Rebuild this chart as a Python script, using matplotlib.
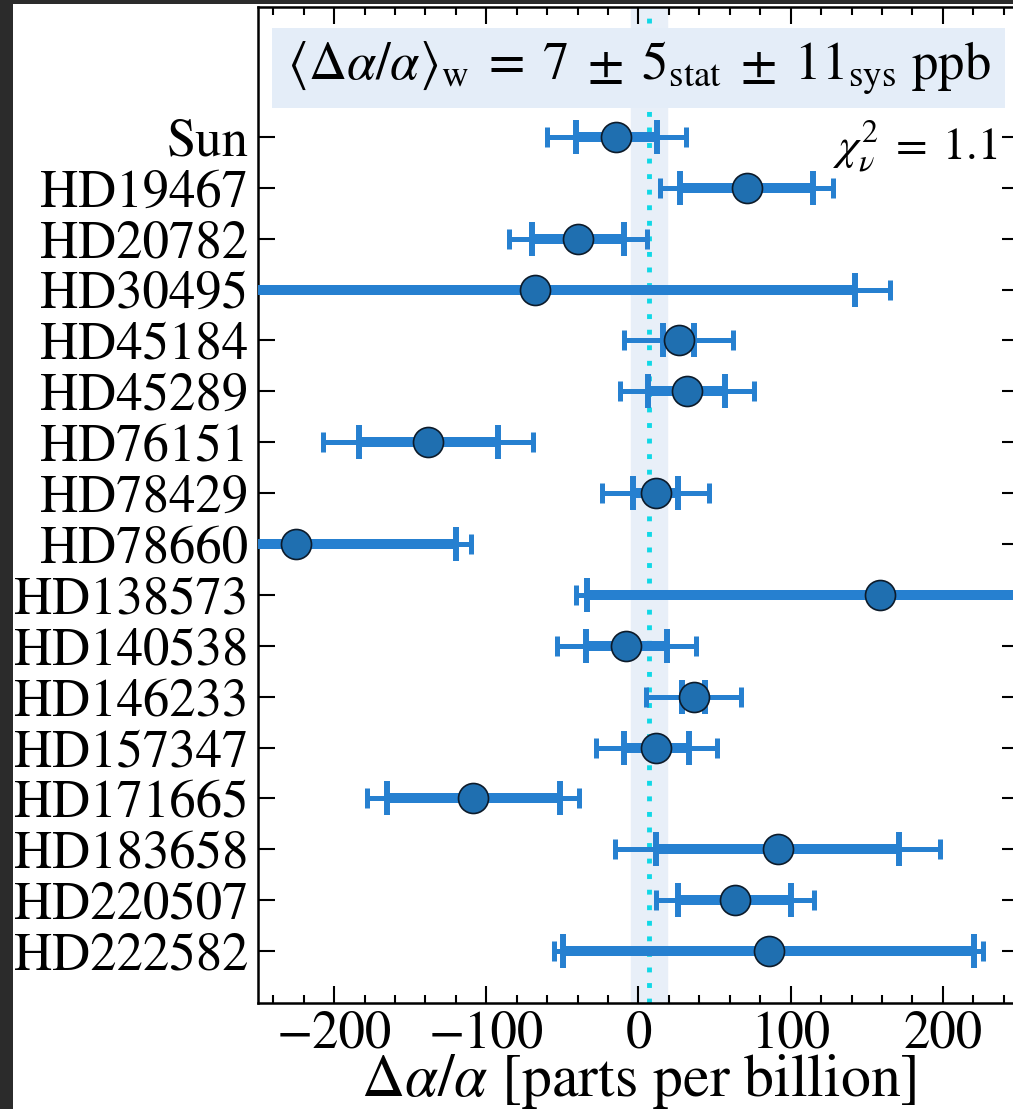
import matplotlib
matplotlib.use("Agg")
import matplotlib.pyplot as plt
from matplotlib.patches import Rectangle

plt.rcParams['font.family'] = ['STIXGeneral', 'DejaVu Serif']
plt.rcParams['mathtext.fontset'] = 'stix'

# data (ppb)
stars = ["Sun", "HD19467", "HD20782", "HD30495", "HD45184", "HD45289",
         "HD76151", "HD78429", "HD78660", "HD138573", "HD140538",
         "HD146233", "HD157347", "HD171665", "HD183658", "HD220507",
         "HD222582"]
values = [-14.5, 71.0, -39.5, -67.8, 26.3, 31.6, -138.0, 11.2, -225.0,
          159.0, -7.9, 36.2, 11.8, -108.6, 91.4, 63.2, 85.5]
stat_err = [26.6, 43.4, 30.3, 210.0, 10.0, 25.3, 45.6, 15.0, 105.0,
            193.0, 26.6, 7.5, 21.4, 56.9, 79.6, 37.2, 135.0]
total_err = [45.5, 56.6, 45.4, 233.0, 35.5, 44.0, 69.0, 35.2, 115.0,
             200.0, 45.7, 31.2, 39.5, 69.7, 106.6, 52.0, 140.8]

mean_w = 7
sig_stat = 5
sig_sys = 11
band = (mean_w - 12, mean_w + 12)
chi2 = 1.1

bar_col = '#2680d0'
pt_col = '#1f6fb0'

fig = plt.figure(figsize=(10.13, 11.09), dpi=100)
ax = fig.add_axes([0.2547, 0.0956, 0.7512, 0.898])

ypos = list(range(len(stars)))

ax.axvspan(band[0], band[1], color='#e8eff8', zorder=0)
ax.axvline(mean_w, color='#10d8e6', ls=(0, (1, 2.2)), lw=3.5, zorder=1)

ax.errorbar(values, ypos, xerr=total_err, fmt='none', ecolor=bar_col,
            elinewidth=3.6, capsize=7, capthick=3.6, zorder=2)
ax.errorbar(values, ypos, xerr=stat_err, fmt='none', ecolor=bar_col,
            elinewidth=7.2, capsize=12, capthick=4.3, zorder=3)
ax.plot(values, ypos, 'o', ms=21.6, mfc=pt_col, mec='#0d1b2a', mew=1.2,
        zorder=4)

# summary box
ax.add_patch(Rectangle((-241, -2.14), 482, 1.57, facecolor='#e4edf8',
                       edgecolor='none', zorder=5))
ax.text(0, -1.36,
        r'$\langle\Delta\alpha/\alpha\rangle_{\rm w}\;=\;%d\;\pm\;%d_{\rm stat}\;\pm\;%d_{\rm sys}$ ppb'
        % (mean_w, sig_stat, sig_sys),
        ha='center', va='center', fontsize=38, zorder=6)
ax.text(236, 0.2, r'$\chi^2_\nu\;=\;%.1f$' % chi2, ha='right', va='center',
        fontsize=33, zorder=6)

ax.set_xlim(-250, 250)
ax.set_ylim(17.02, -2.55)
ax.set_yticks(ypos)
ax.set_yticklabels(stars)
ax.set_xticks([-200, -100, 0, 100, 200])
ax.set_xticks(range(-240, 250, 20), minor=True)
ax.tick_params(axis='both', which='major', direction='in', length=12,
               width=1.5, top=True, right=True, labelsize=38, pad=7)
ax.tick_params(axis='x', which='major', pad=5)
ax.tick_params(axis='x', which='minor', direction='in', length=6,
               width=1.5, top=True)
ax.tick_params(axis='y', which='minor', left=False, right=False)
for s in ax.spines.values():
    s.set_linewidth(1.8)
ax.set_xlabel(r'$\Delta\alpha/\alpha$ [parts per billion]', fontsize=43,
              labelpad=-5)

# dark screenshot edges
fig.patches.append(Rectangle((0, 0), 13 / 1013, 1, transform=fig.transFigure,
                             facecolor='#2b2b2b', edgecolor='none', zorder=10))
fig.patches.append(Rectangle((0, 1 - 4 / 1109), 1, 4 / 1109,
                             transform=fig.transFigure, facecolor='#2b2b2b',
                             edgecolor='none', zorder=10))

fig.savefig('out.png', dpi=100)
